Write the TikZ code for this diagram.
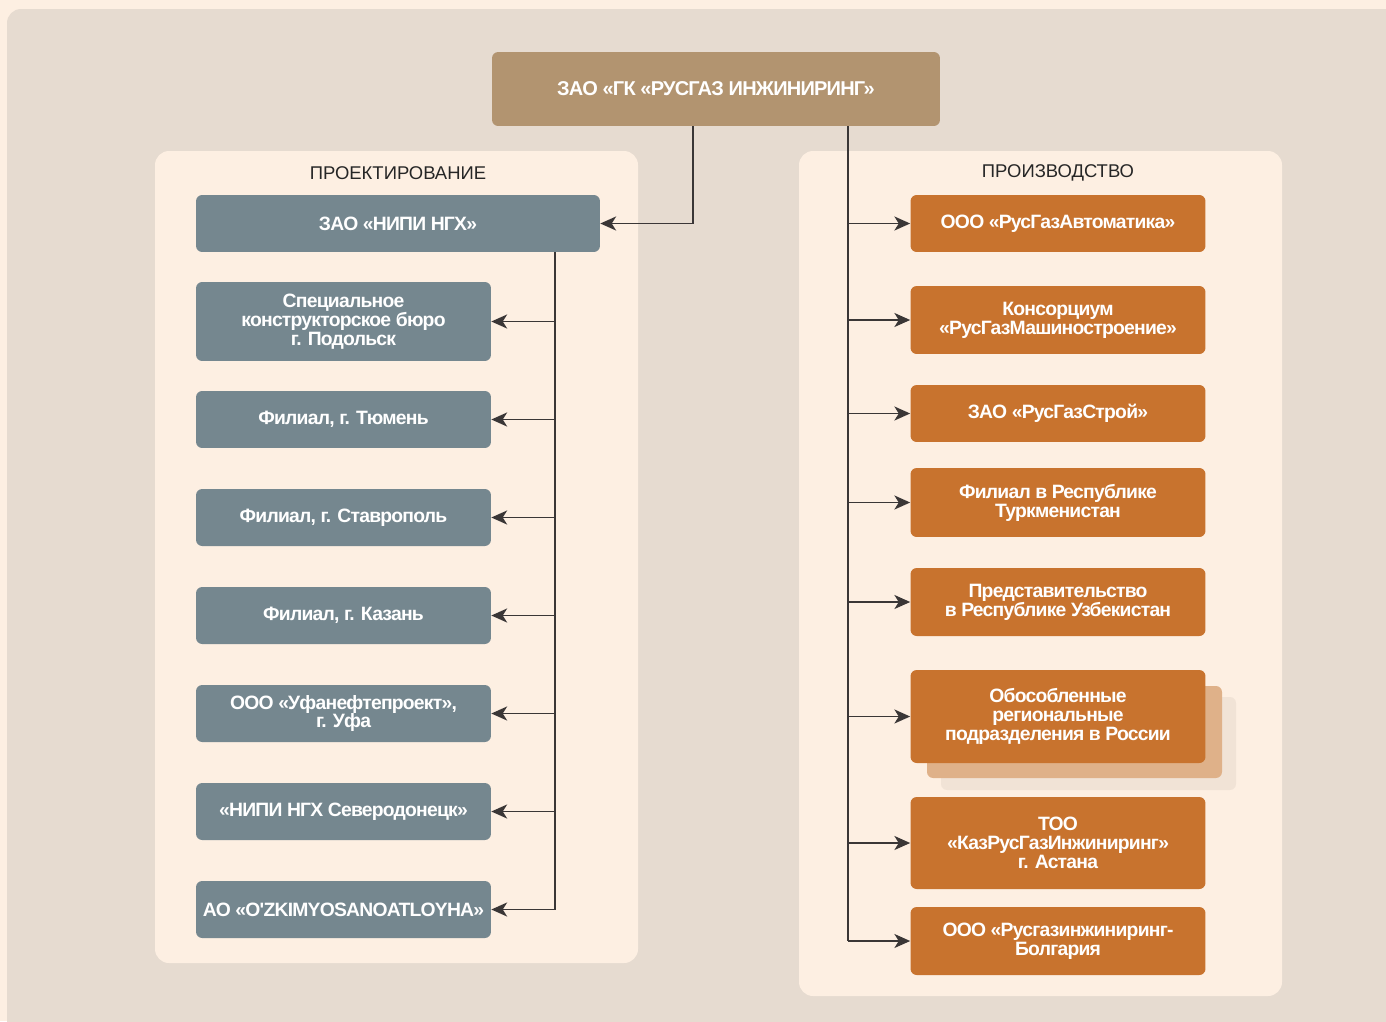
\documentclass[tikz,border=0pt]{standalone}
\usepackage{fontspec}
\setmainfont{Liberation Sans}
\newfontfamily\boxfont{Liberation Sans}[LetterSpace=-4]
\usetikzlibrary{arrows.meta}

\definecolor{bgcream}{HTML}{FDEFE2}
\definecolor{panelgrey}{HTML}{E6DBD0}
\definecolor{topbrown}{HTML}{B29470}
\definecolor{slate}{HTML}{75878F}
\definecolor{rust}{HTML}{C8732E}
\definecolor{shadowtan}{HTML}{DFB189}
\definecolor{shadowpale}{HTML}{F1E3D6}
\definecolor{linegrey}{HTML}{3A3636}

\begin{document}
\begin{tikzpicture}[x=0.02cm,y=-0.02cm,
  box/.style={rounded corners=3.5pt,text=white,inner sep=0pt,align=center,
    font=\boxfont\bfseries\fontsize{11}{10.8}\selectfont},
  slatebox/.style={box,fill=slate,minimum width=5.9cm,minimum height=1.14cm},
  rustbox/.style={box,fill=rust,minimum width=5.9cm,minimum height=1.14cm},
  title/.style={text=black!85,font=\fontsize{10.5}{12}\selectfont},
  link/.style={draw=linegrey,line width=0.9pt},
  arr/.style={link,-{Stealth[length=9pt,width=8pt,inset=2.5pt]}}]
\clip (0,0) rectangle (1386,1021);
\fill[bgcream] (0,0) rectangle (1386,1021);
\fill[panelgrey,rounded corners=8pt] (7,9) rectangle (1420,1060);
% panels
\fill[bgcream,rounded corners=8pt] (155,151) rectangle (638,963);
\fill[bgcream,rounded corners=8pt] (799,151) rectangle (1282,996);
\node[title] (ltitle) at (398,173) {ПРОЕКТИРОВАНИЕ};
\node[title] (rtitle) at (1058,173) {ПРОИЗВОДСТВО};
% head
\node[box,fill=topbrown,minimum width=8.96cm,minimum height=1.48cm,
  font=\boxfont\bfseries\fontsize{11.4}{12}\selectfont] (top) at (716,89) {ЗАО «ГК «РУСГАЗ ИНЖИНИРИНГ»};
\coordinate (lsplit) at (693,126);
\coordinate (rtrunk) at (848,126);
% design side
\node[slatebox,minimum width=8.08cm] (nipi) at (398,223.5) {ЗАО «НИПИ НГХ»};
\node[slatebox,minimum height=1.58cm] (l1) at (343.5,321.5) {Специальное\\конструкторское бюро\\г. Подольск};
\node[slatebox] (l2) at (343.5,419.5) {Филиал, г. Тюмень};
\node[slatebox] (l3) at (343.5,517.5) {Филиал, г. Ставрополь};
\node[slatebox] (l4) at (343.5,615.5) {Филиал, г. Казань};
\node[slatebox] (l5) at (343.5,713.5) {ООО «Уфанефтепроект»,\\г. Уфа};
\node[slatebox] (l6) at (343.5,811.5) {«НИПИ НГХ Северодонецк»};
\node[slatebox] (l7) at (343.5,909.5) {АО «O'ZKIMYOSANOATLOYHA»};
% production side
\node[rustbox] (r1) at (1058,223.5) {ООО «РусГазАвтоматика»};
\node[rustbox,minimum height=1.36cm] (r2) at (1058,320) {Консорциум\\«РусГазМашиностроение»};
\node[rustbox] (r3) at (1058,413.5) {ЗАО «РусГазСтрой»};
\node[rustbox,minimum height=1.38cm] (r4) at (1058,502.5) {Филиал в Республике\\Туркменистан};
\node[rustbox,minimum height=1.36cm] (r5) at (1058,602) {Представительство\\в Республике Узбекистан};
\fill[shadowpale,rounded corners=3.5pt] (941,697) rectangle (1236,790);
\fill[shadowtan,rounded corners=3.5pt] (927,686) rectangle (1222,778);
\node[rustbox,minimum height=1.86cm] (r6) at (1058,716.5) {Обособленные\\региональные\\подразделения в России};
\node[rustbox,minimum height=1.84cm] (r7) at (1058,843) {ТОО\\«КазРусГазИнжиниринг»\\г. Астана};
\node[rustbox,minimum height=1.36cm] (r8) at (1058,941) {ООО «Русгазинжиниринг-\\Болгария};
% connectors
\draw[arr] (lsplit) |- (nipi.east);
\coordinate (ltrunk) at (555,252);
\draw[link] (ltrunk) -- (ltrunk |- l7.east);
\foreach \n in {l1,l2,l3,l4,l5,l6,l7}
  \draw[arr] (\n.east -| ltrunk) -- (\n.east);
\draw[link] (rtrunk) -- (rtrunk |- r8.west);
\foreach \n in {r1,r2,r3,r4,r5,r6,r7,r8}
  \draw[arr] (\n.west -| rtrunk) -- (\n.west);
\end{tikzpicture}
\end{document}
